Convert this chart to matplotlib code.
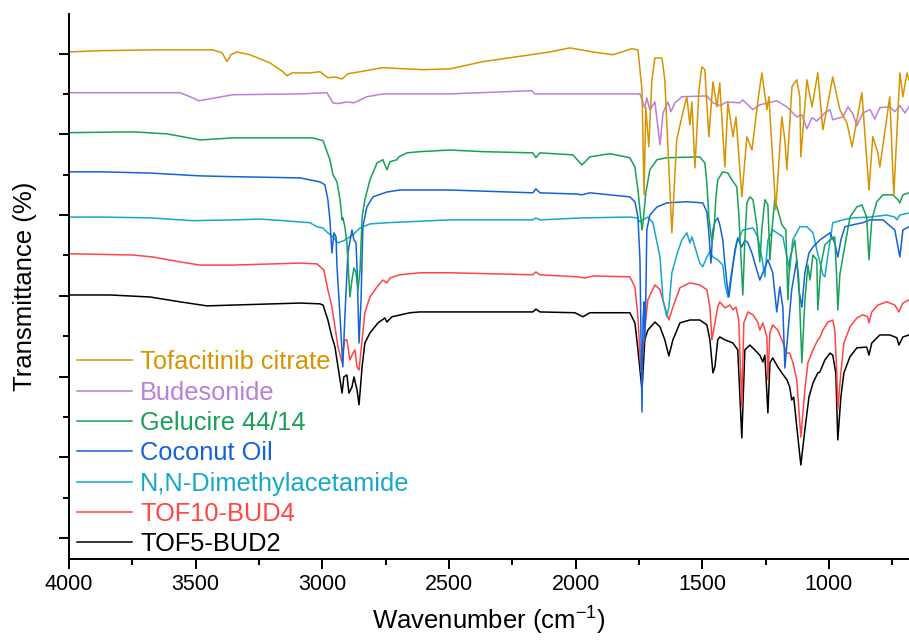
import numpy as np
import matplotlib
matplotlib.use("Agg")
import matplotlib.pyplot as plt
from matplotlib.ticker import MultipleLocator

plt.rcParams['font.family'] = ['Liberation Sans', 'DejaVu Sans']
plt.rcParams['mathtext.default'] = 'regular'

# ---- data (wavenumber cm-1, offset transmittance) ----
tof_wn = [4000, 3878, 3680, 3432, 3396, 3376, 3361, 3337, 3286, 3207, 3155, 3140, 3120,
          3049, 3009, 2978, 2950, 2922, 2899, 2851, 2761, 2603, 2496, 2366, 2232, 2101,
          2023, 1932, 1853, 1778, 1754, 1738, 1730, 1723, 1711, 1699, 1687, 1659, 1648,
          1620, 1601, 1577, 1561, 1549, 1541, 1529, 1513, 1502, 1490, 1474, 1458, 1442,
          1431, 1411, 1399, 1379, 1367, 1344, 1324, 1304, 1280, 1265, 1245, 1237, 1210,
          1186, 1174, 1166, 1146, 1127, 1115, 1111, 1087, 1067, 1044, 1024, 985, 957,
          929, 909, 870, 842, 827, 807, 799, 760, 744, 720, 708, 692, 684]
tof_t = [120.4, 120.7, 120.9, 120.9, 120.2, 118.0, 119.7, 120.4, 119.7, 117.7, 115.5, 114.5,
         115.2, 115.2, 115.5, 114.0, 114.2, 113.7, 115.0, 115.5, 116.5, 116.0, 116.2, 118.0,
         119.2, 120.4, 121.4, 120.4, 119.7, 121.2, 120.9, 111.0, 85.0, 106.6, 96.9, 113.5,
         118.9, 118.9, 113.5, 75.6, 98.6, 105.3, 109.3, 102.3, 108.0, 91.7, 111.0, 116.7,
         116.0, 99.4, 113.0, 106.8, 112.7, 91.9, 107.8, 99.4, 104.3, 84.5, 99.4, 96.1,
         108.5, 115.2, 106.1, 109.3, 81.3, 104.3, 98.6, 91.2, 111.8, 113.5, 109.3, 94.4,
         113.5, 106.8, 115.2, 101.1, 114.2, 106.1, 102.8, 96.9, 110.3, 86.2, 99.4, 95.4,
         91.9, 109.3, 85.0, 115.2, 109.3, 115.2, 113.5]

bud_wn = [4000, 3562, 3522, 3487, 3424, 3353, 3088, 2982, 2958, 2938, 2903, 2875, 2824,
          2761, 2496, 2173, 2161, 1746, 1727, 1719, 1707, 1687, 1667, 1655, 1636, 1624,
          1608, 1581, 1482, 1458, 1431, 1403, 1352, 1340, 1300, 1273, 1206, 1166, 1127,
          1107, 1087, 1067, 1048, 1016, 996, 985, 945, 925, 905, 890, 866, 838, 819, 799,
          760, 740, 720, 700, 684]
bud_t = [110.3, 110.3, 109.3, 108.3, 109.0, 109.8, 110.0, 110.3, 107.8, 107.6, 108.0, 107.8,
         109.3, 110.0, 110.0, 110.8, 110.0, 110.0, 106.6, 109.0, 106.1, 108.0, 97.4, 105.3,
         108.0, 105.6, 107.8, 109.3, 109.5, 107.8, 107.1, 108.0, 107.8, 108.5, 106.1, 107.3,
         108.3, 106.8, 104.3, 104.8, 101.4, 104.1, 103.3, 105.3, 106.1, 103.6, 104.3, 106.8,
         105.0, 102.1, 105.3, 106.1, 103.8, 106.6, 106.8, 105.6, 107.1, 105.3, 106.8]

gel_wn = [4000, 3747, 3613, 3483, 3353, 3037, 2997, 2970, 2958, 2942, 2930, 2922, 2919,
          2911, 2903, 2891, 2883, 2875, 2867, 2859, 2851, 2843, 2832, 2812, 2784, 2761,
          2745, 2733, 2705, 2698, 2666, 2615, 2496, 2366, 2169, 2157, 2141, 2011, 1975,
          1944, 1865, 1786, 1766, 1754, 1738, 1734, 1723, 1707, 1679, 1640, 1510, 1490,
          1482, 1474, 1462, 1454, 1446, 1439, 1419, 1399, 1383, 1364, 1356, 1340, 1332,
          1324, 1312, 1300, 1285, 1273, 1265, 1253, 1241, 1233, 1225, 1214, 1202, 1186,
          1170, 1162, 1155, 1135, 1119, 1107, 1095, 1083, 1075, 1063, 1048, 1044, 1032,
          1016, 996, 977, 969, 965, 957, 945, 917, 890, 870, 851, 842, 831, 811, 787, 748,
          728, 720, 708, 684]
gel_t = [100.4, 100.6, 100.1, 98.6, 99.1, 99.1, 98.4, 93.7, 90.0, 88.2, 83.8, 78.8, 79.3,
         77.1, 73.1, 59.7, 63.9, 66.9, 65.7, 61.5, 66.4, 79.5, 83.8, 88.7, 92.9, 93.7, 91.2,
         93.2, 93.7, 94.4, 95.4, 95.7, 96.1, 95.7, 95.4, 94.2, 95.4, 94.9, 92.4, 94.4, 95.2,
         94.2, 91.9, 86.2, 76.3, 78.1, 85.5, 91.2, 93.7, 94.2, 94.4, 92.9, 88.0, 79.5, 73.1,
         76.3, 84.5, 88.7, 90.7, 90.4, 88.7, 87.0, 80.5, 60.2, 73.8, 83.0, 84.5, 83.8, 77.6,
         68.4, 76.3, 83.8, 82.5, 68.9, 76.3, 83.8, 81.3, 77.6, 76.3, 59.0, 68.9, 73.8, 63.9,
         43.4, 59.0, 67.6, 63.9, 70.1, 68.9, 56.5, 67.6, 72.6, 73.8, 74.6, 63.9, 56.5, 65.2,
         69.6, 79.5, 82.0, 82.5, 79.5, 68.9, 78.8, 83.3, 85.0, 85.0, 83.8, 83.0, 85.0, 85.5]

coco_wn = [4000, 3878, 3680, 3483, 3353, 3088, 3009, 2990, 2978, 2970, 2962, 2954, 2946,
           2942, 2930, 2919, 2911, 2899, 2883, 2875, 2867, 2863, 2855, 2847, 2840, 2824,
           2800, 2745, 2694, 2496, 2169, 2157, 2141, 1995, 1975, 1944, 1786, 1766, 1754,
           1746, 1738, 1734, 1730, 1727, 1723, 1719, 1707, 1679, 1640, 1561, 1498, 1482,
           1474, 1466, 1458, 1450, 1439, 1431, 1419, 1411, 1403, 1395, 1383, 1371, 1360,
           1344, 1332, 1320, 1304, 1285, 1273, 1261, 1241, 1222, 1206, 1194, 1182, 1174,
           1162, 1147, 1127, 1119, 1107, 1095, 1079, 1063, 1036, 996, 977, 965, 953, 937,
           905, 866, 838, 787, 740, 720, 708, 684]
coco_t = [90.7, 90.7, 90.4, 89.7, 89.5, 89.2, 88.2, 87.5, 83.8, 78.8, 70.6, 75.6, 74.6,
          67.2, 54.8, 42.4, 54.8, 70.6, 76.3, 73.8, 73.1, 67.2, 48.3, 59.0, 77.1, 82.0,
          84.5, 85.7, 86.2, 86.2, 85.5, 86.5, 85.5, 85.2, 85.0, 85.5, 84.5, 83.3, 79.5,
          68.9, 31.2, 54.0, 58.5, 49.1, 59.0, 76.3, 80.0, 82.0, 83.0, 83.3, 83.0, 80.8,
          75.6, 68.1, 76.3, 78.3, 79.3, 77.6, 73.8, 68.1, 63.2, 59.7, 65.7, 71.4, 74.3,
          72.1, 73.8, 73.1, 70.6, 66.4, 63.9, 65.7, 68.9, 65.7, 56.0, 62.2, 57.2, 42.1,
          50.8, 61.5, 68.9, 61.5, 57.2, 65.7, 70.6, 72.1, 73.8, 75.6, 73.1, 69.6, 73.8,
          77.1, 77.6, 78.1, 78.8, 78.8, 76.3, 69.6, 76.3, 77.1]

dma_wn = [4000, 3878, 3680, 3511, 3353, 3246, 3155, 3049, 3021, 2997, 2982, 2958, 2938,
          2911, 2879, 2851, 2812, 2745, 2496, 2169, 2157, 2141, 1971, 1786, 1758, 1746,
          1734, 1715, 1695, 1667, 1655, 1640, 1632, 1620, 1601, 1581, 1561, 1549, 1541,
          1529, 1510, 1498, 1482, 1470, 1458, 1439, 1419, 1411, 1399, 1383, 1364, 1340,
          1300, 1281, 1265, 1253, 1241, 1222, 1182, 1166, 1155, 1143, 1115, 1087, 1063,
          1048, 1036, 1024, 1016, 1008, 985, 945, 905, 838, 772, 740, 732, 720, 684]
dma_t = [79.5, 79.5, 79.3, 78.6, 78.8, 79.0, 78.6, 78.1, 77.1, 76.8, 75.8, 74.6, 73.1,
         73.8, 75.1, 76.8, 77.8, 78.1, 78.8, 78.8, 79.3, 78.8, 79.3, 79.5, 79.3, 78.3,
         78.8, 79.5, 78.1, 69.6, 59.0, 54.8, 57.2, 65.7, 70.1, 73.8, 75.6, 73.1, 74.6,
         72.1, 68.1, 67.2, 69.6, 70.9, 69.6, 68.9, 67.6, 63.2, 59.7, 66.4, 73.1, 76.3,
         76.8, 74.6, 69.6, 64.7, 73.8, 76.3, 74.6, 69.6, 66.4, 73.8, 77.1, 77.1, 75.6,
         71.4, 68.4, 65.2, 64.7, 68.4, 78.1, 78.8, 79.3, 79.5, 80.0, 79.5, 78.8, 80.0, 80.5]

tof10_wn = [4000, 3747, 3668, 3562, 3483, 3353, 3088, 3021, 2994, 2978, 2962, 2950, 2938,
            2922, 2919, 2911, 2903, 2891, 2879, 2871, 2863, 2855, 2843, 2832, 2812, 2784,
            2761, 2745, 2733, 2694, 2615, 2496, 2169, 2157, 2141, 1995, 1963, 1932, 1786,
            1766, 1754, 1742, 1734, 1727, 1715, 1687, 1667, 1648, 1632, 1616, 1588, 1549,
            1510, 1482, 1470, 1462, 1450, 1439, 1431, 1411, 1391, 1379, 1367, 1356, 1344,
            1336, 1320, 1300, 1281, 1273, 1261, 1245, 1241, 1233, 1222, 1202, 1186, 1166,
            1155, 1143, 1127, 1111, 1095, 1083, 1063, 1044, 1036, 1024, 1004, 985, 977, 969,
            965, 953, 941, 917, 890, 866, 847, 842, 831, 807, 772, 740, 724, 708, 684]
tof10_t = [70.4, 70.1, 69.6, 68.4, 67.6, 67.6, 68.1, 67.9, 66.4, 61.5, 57.2, 52.3, 47.3,
           43.4, 45.8, 49.1, 49.1, 44.1, 45.8, 46.6, 42.4, 41.6, 49.1, 55.8, 59.7, 62.2,
           63.9, 63.2, 64.4, 65.2, 65.7, 65.7, 65.2, 65.9, 65.2, 64.7, 64.4, 64.9, 64.7,
           62.2, 54.8, 41.1, 46.6, 51.5, 59.0, 62.7, 61.5, 57.2, 54.0, 57.2, 62.0, 63.2,
           62.7, 61.5, 57.2, 49.1, 53.3, 57.2, 58.5, 57.0, 57.7, 56.5, 57.2, 54.0, 32.5,
           53.3, 56.0, 55.3, 53.5, 51.5, 53.3, 49.8, 39.2, 50.8, 52.8, 51.5, 49.1, 45.8,
           45.8, 43.6, 39.2, 25.0, 36.7, 43.4, 46.6, 49.1, 49.6, 51.5, 53.5, 54.0, 51.5,
           40.9, 31.7, 40.9, 48.3, 52.3, 54.5, 55.3, 54.8, 53.3, 56.0, 57.7, 58.5, 57.7,
           56.0, 58.2, 59.0]

tof5_wn = [4000, 3838, 3680, 3562, 3455, 3353, 3088, 3009, 2997, 2978, 2962, 2950, 2938,
           2922, 2915, 2903, 2895, 2883, 2875, 2863, 2855, 2843, 2832, 2812, 2780, 2753,
           2745, 2725, 2654, 2615, 2496, 2169, 2157, 2141, 2003, 1971, 1944, 1904, 1786,
           1766, 1754, 1738, 1727, 1715, 1687, 1667, 1648, 1632, 1616, 1588, 1549, 1510,
           1482, 1470, 1458, 1450, 1439, 1431, 1411, 1379, 1360, 1344, 1332, 1312, 1293,
           1273, 1261, 1253, 1241, 1233, 1222, 1202, 1186, 1166, 1155, 1147, 1139, 1127,
           1111, 1095, 1079, 1063, 1044, 1036, 1016, 996, 985, 973, 965, 953, 941, 917, 890,
           851, 842, 831, 799, 760, 732, 724, 708, 684]
tof5_t = [60.2, 60.2, 59.7, 58.5, 57.5, 57.7, 58.2, 58.0, 57.7, 54.0, 49.8, 47.3, 42.4,
          35.9, 39.9, 40.4, 35.9, 37.4, 39.9, 36.7, 33.0, 42.4, 48.3, 50.8, 53.3, 54.5,
          53.5, 54.8, 55.8, 56.0, 56.0, 56.0, 56.7, 56.0, 55.8, 54.8, 55.8, 55.8, 55.8,
          53.3, 46.6, 36.7, 49.1, 51.5, 53.5, 52.3, 49.1, 45.1, 49.1, 53.3, 54.0, 54.0,
          52.8, 49.1, 40.9, 42.4, 49.1, 49.8, 49.1, 48.3, 46.6, 24.8, 46.6, 47.8, 46.6,
          45.3, 43.6, 45.3, 31.0, 43.4, 44.6, 42.4, 40.9, 39.2, 37.4, 34.2, 34.9, 27.5,
          18.1, 26.8, 34.9, 38.4, 40.9, 41.1, 44.1, 45.8, 45.3, 40.9, 24.3, 34.9, 40.9,
          44.9, 47.1, 47.3, 45.3, 48.3, 50.3, 50.3, 49.6, 47.8, 49.8, 50.3]

labels = ["Tofacitinib citrate", "Budesonide", "Gelucire 44/14", "Coconut Oil",
          "N,N-Dimethylacetamide", "TOF10-BUD4", "TOF5-BUD2"]
colors = ["#D69400", "#B87FDB", "#17A058", "#1462D8", "#17A7C9", "#FF4545", "#000000"]
series = [(tof_wn, tof_t), (bud_wn, bud_t), (gel_wn, gel_t), (coco_wn, coco_t),
          (dma_wn, dma_t), (tof10_wn, tof10_t), (tof5_wn, tof5_t)]

fig = plt.figure(figsize=(9.09, 6.41), dpi=100)
ax = fig.add_axes([0.0759, 0.1279, 0.9241, 0.8503])

handles = [None] * len(series)
# draw bottom trace first so upper traces sit on top
for i in range(len(series) - 1, -1, -1):
    wn, t = series[i]
    h, = ax.plot(wn, t, color=colors[i], lw=1.1, label=labels[i])
    handles[i] = h

ax.set_xlim(4000, 684)
ax.set_ylim(-5.2, 129.8)
ax.xaxis.set_major_locator(MultipleLocator(500))
ax.xaxis.set_minor_locator(MultipleLocator(250))
ax.yaxis.set_major_locator(MultipleLocator(20))
ax.yaxis.set_minor_locator(MultipleLocator(10))
ax.tick_params(which='major', direction='out', length=7, width=1.4, labelsize=15.5)
ax.tick_params(which='minor', direction='out', length=4, width=1.4)
ax.tick_params(axis='y', which='both', labelleft=False)
for s in ['top', 'right']:
    ax.spines[s].set_visible(False)
for s in ['left', 'bottom']:
    ax.spines[s].set_linewidth(1.4)

ax.set_xlabel("Wavenumber (cm$^{-1}$)", fontsize=18.5, labelpad=7)
ax.set_ylabel("Transmittance (%)", fontsize=18.5, labelpad=16)

leg = ax.legend(handles=handles, loc='upper left', bbox_to_anchor=(0.0095, 0.383),
                frameon=False, fontsize=18.3, handlelength=2.17, handletextpad=0.31,
                labelspacing=0.25, borderpad=0.0, borderaxespad=0.0,
                labelcolor='linecolor')
for line in leg.get_lines():
    line.set_linewidth(1.1)

fig.savefig("out.png", dpi=100)
